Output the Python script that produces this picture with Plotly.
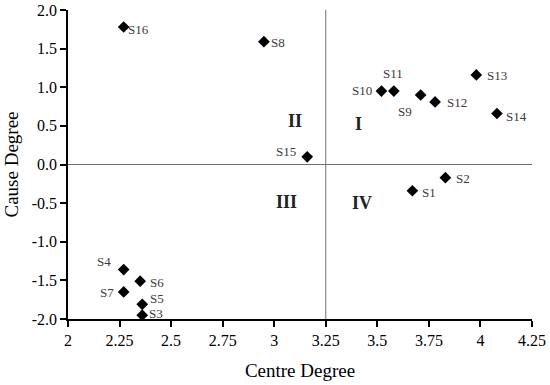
import plotly.graph_objects as go

names = ["S1","S2","S3","S4","S5","S6","S7","S8","S9","S10","S11","S12","S13","S14","S15","S16"]
centre = [3.67,3.83,2.36,2.27,2.36,2.35,2.27,2.95,3.71,3.52,3.58,3.78,3.98,4.08,3.16,2.27]
cause = [-0.34,-0.17,-1.95,-1.36,-1.81,-1.51,-1.65,1.59,0.90,0.95,0.95,0.81,1.16,0.66,0.10,1.78]
# label offsets in pixels (style)
label_dx = [17,18,14,-20,15,17,-17,14,-16,-19,-1,22,21,20,-21,15]
label_dy = [2,1,-2,-8,-6,1,1,1,17,-1,-18,1,1,3,-5,2]

quad_labels = ["I","II","III","IV"]
quad_x = [3.41,3.10,3.06,3.426]
quad_y = [0.53,0.56,-0.48,-0.50]

x_ticks = [2,2.25,2.5,2.75,3,3.25,3.5,3.75,4,4.25]
x_ticktext = ["2","2.25","2.5","2.75","3","3.25","3.5","3.75","4","4.25"]
y_ticks = [-2,-1.5,-1,-0.5,0,0.5,1,1.5,2]
y_ticktext = ["-2.0","-1.5","-1.0","-0.5","0.0","0.5","1.0","1.5","2.0"]

serif = "Liberation Serif, Times New Roman, serif"

fig = go.Figure()
fig.add_shape(type="line", xref="x", yref="y", x0=3.25, x1=3.25, y0=-2, y1=2,
              line=dict(color="#707070", width=1))
fig.add_shape(type="line", xref="x", yref="y", x0=2, x1=4.25, y0=0, y1=0,
              line=dict(color="#707070", width=1))

fig.add_trace(go.Scatter(
    x=centre, y=cause, mode="markers",
    marker=dict(symbol="diamond", size=9, color="black"),
    cliponaxis=False, showlegend=False, hoverinfo="skip"))

for n, cx, cy, dx, dy in zip(names, centre, cause, label_dx, label_dy):
    fig.add_annotation(x=cx, y=cy, text=n, showarrow=False, xshift=dx, yshift=-dy,
                       font=dict(family=serif, size=13, color="#3a3a3a"))

for t, qx, qy in zip(quad_labels, quad_x, quad_y):
    fig.add_annotation(x=qx, y=qy, text="<b>%s</b>" % t, showarrow=False,
                       font=dict(family=serif, size=18, color="#222"))

fig.update_layout(
    width=550, height=385, plot_bgcolor="white", paper_bgcolor="white",
    margin=dict(l=68, r=18, t=10, b=66),
    font=dict(family=serif, color="black"),
    xaxis=dict(range=[2,4.25], tickvals=x_ticks, ticktext=x_ticktext, showgrid=False,
               zeroline=False, showline=True, linecolor="black", linewidth=1.5,
               ticks="outside", ticklen=6, tickcolor="black", tickwidth=1.5,
               tickfont=dict(family=serif, size=16), automargin=False,
               title=dict(text="Centre Degree", font=dict(family=serif, size=19), standoff=16)),
    yaxis=dict(range=[-2,2], tickvals=y_ticks, ticktext=y_ticktext, showgrid=False,
               zeroline=False, showline=True, linecolor="black", linewidth=1.5,
               ticks="outside", ticklen=6, tickcolor="black", tickwidth=1.5,
               tickfont=dict(family=serif, size=16), automargin=False,
               title=dict(text="Cause Degree", font=dict(family=serif, size=19), standoff=8)),
)

fig.write_html("out.html", config={"displayModeBar": False},
               post_script="document.body.style.margin='0px';")
